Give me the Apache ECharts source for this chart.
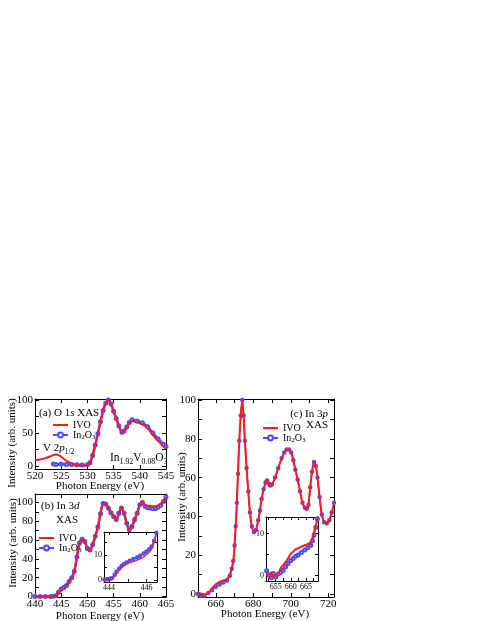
<!DOCTYPE html>
<html>
<head>
<meta charset="utf-8">
<script src="https://cdn.jsdelivr.net/npm/echarts@6/dist/echarts.min.js"></script>
<style>
  html, body { margin: 0; padding: 0; background: #fff; }
  #chart { width: 480px; height: 621px; }
</style>
</head>
<body>
<div id="chart"></div>
<script>
// (a) O 1s XAS
const oEnergyIVO = [520, 521, 522, 523, 524, 524.5, 525, 526, 527, 528, 529, 530, 530.5, 531, 531.5, 532, 532.5, 533, 533.5, 534, 534.5, 535, 535.5, 536, 536.6, 537, 537.5, 538, 538.5, 539.5, 540.5, 541.5, 542.5, 543.5, 544.5, 545];
const oIVO = [9, 10, 12, 15, 17.5, 16.5, 14, 8, 3.7, 1.2, 0.3, 1.5, 5, 16, 32, 49, 67, 84, 95, 100, 94, 83, 72, 61, 51, 53, 58, 65, 68, 66, 63, 57, 47, 38, 30, 27];
const oEnergyIn2O3 = [523.5, 524, 525, 526, 527, 528, 529, 530, 530.5, 531, 531.5, 532, 532.5, 533, 533.5, 534, 534.5, 535, 535.5, 536, 536.6, 537, 537.5, 538, 538.5, 539.5, 540.5, 541.5, 542.5, 543.5, 544.5, 545];
const oIn2O3 = [3, 2.5, 3, 2.5, 2.5, 2, 1.5, 2, 5, 16, 32, 49, 67, 84, 95, 100, 94, 83, 72, 61, 51, 53, 59, 66, 70, 68, 65.5, 59.5, 50, 41, 33, 29.5];

// (b) In 3d XAS
const dEnergy = [440, 441, 442, 443, 443.5, 444, 444.5, 445, 445.5, 446, 446.5, 447, 447.5, 448, 448.5, 449, 449.5, 450, 450.5, 451, 451.5, 452, 452.5, 453, 453.5, 454, 454.5, 455, 455.5, 456, 456.5, 457, 457.5, 458, 458.5, 459, 459.5, 460, 460.5, 461, 461.5, 462, 462.5, 463, 463.5, 464, 464.5, 465];
const dIVO = [0, 0, 0, 0, 0.2, 0.5, 3.5, 7, 8.5, 10.5, 15, 19, 26, 42, 57, 61, 58.5, 51, 49.5, 55, 64, 74, 88, 99, 98.5, 94, 89, 85, 82, 88.5, 94, 88.5, 78, 71, 74.5, 81.5, 88.5, 97.5, 101, 97.5, 96.5, 96.5, 96, 96, 97, 99, 102, 105.5];
const dIn2O3 = [0, 0, 0, 0, 0.3, 0.8, 4.5, 8, 9.5, 11.8, 16, 20, 27, 42, 57, 61, 58.5, 51, 49.5, 55, 64, 74, 88, 99, 98.5, 94, 89, 85, 82, 88.5, 94, 88.5, 78, 71, 74.5, 81.5, 88.5, 97.5, 100, 96, 94.5, 94, 93.5, 93.5, 95, 97, 101, 106];
const dInsetEnergy = [443.75, 443.9, 444.05, 444.15, 444.3, 444.4, 444.55, 444.67, 444.8, 444.94, 445.1, 445.3, 445.5, 445.65, 445.85, 446, 446.15, 446.27, 446.4, 446.53];
const dInsetIVO = [0, 0, 0.2, 0.4, 1.5, 2.7, 4, 5, 5.8, 6.4, 6.9, 7.3, 7.9, 8.4, 9.2, 10, 11, 12.3, 14.8, 18.7];
const dInsetIn2O3 = [0.3, 0.4, 0.6, 0.8, 2.2, 3.3, 4.6, 5.6, 6.4, 7, 7.7, 8.4, 9, 9.6, 10.5, 11.3, 12.2, 13.3, 15.5, 18.7];

// (c) In 3p XAS
const pEnergy = [650.5, 652, 654, 656, 658, 660, 662, 664, 666, 667.5, 668.5, 669.3, 670, 670.6, 671.2, 671.8, 672.5, 673.3, 674.1, 674.8, 675.5, 676.4, 677.3, 678.2, 679.2, 680.3, 681.4, 682.6, 683.5, 684.4, 685.5, 686.5, 687.3, 688.2, 689, 690, 691.6, 693.3, 695.1, 696.5, 697.8, 699, 700.2, 701.3, 702.4, 703.6, 704.9, 706.2, 707.5, 708.5, 709.4, 710.3, 711.3, 712.4, 713.3, 714.2, 715.3, 716.5, 717.8, 719.2, 720.5, 721.8, 723];
const pIVO = [0.5, 0.3, -0.2, 0.7, 3, 5, 6.3, 7, 7.8, 10, 13.5, 17, 25, 35, 47, 62, 79, 92, 100, 92, 79, 65, 53, 42, 35, 32, 33, 38, 43, 49, 54, 57.5, 58.5, 57, 56, 56.5, 60, 65, 70, 73, 74.5, 74.5, 73, 69, 64, 59, 53, 47, 44.5, 44, 46, 55, 63, 68, 66, 60, 50, 41, 37, 36.5, 38, 42, 46.5];
const pIn2O3 = [0, -1, -0.8, 0.5, 2, 3.8, 5, 6, 7, 9.5, 13, 17, 25, 35, 47, 62, 79, 92, 100, 92, 79, 65, 53, 42, 35, 32, 33, 38, 43, 49, 54, 57.5, 58.5, 57, 56, 56.5, 60, 65, 70, 73, 74.5, 74.5, 73, 69, 64, 59, 53, 47, 44.5, 44, 46, 55, 63, 68, 66, 60, 50, 41, 37, 36.5, 38, 42, 47];
const pInsetEnergy = [652, 652.8, 653.5, 654.2, 655, 655.9, 656.7, 657.5, 658.3, 659.1, 660, 660.8, 661.6, 662.4, 663.5, 664.6, 665.6, 666.6, 667.2, 667.7, 668.3, 668.8];
const pInsetIVO = [0.5, -0.3, 0.8, -0.2, 0.3, 0.6, 1.8, 2.5, 3.3, 4.1, 5.2, 5.7, 6.2, 6.5, 6.9, 7.2, 7.5, 8, 9, 10.4, 12, 13.7];
const pInsetIn2O3 = [1.2, 0.2, -0.5, 0.5, -0.3, 0.4, 0.8, 1.3, 2.1, 2.9, 3.6, 4.1, 4.6, 4.9, 5.5, 6.1, 6.6, 7.2, 8.3, 9.6, 11.5, 13.5];

// tick values and tick labels
const aXLabels = [520, 525, 530, 535, 540, 545];
const aYTicks = [0, 25, 50, 75, 100];
const aYLabels = [0, 50, 100];
const bXLabels = [440, 445, 450, 455, 460, 465];
const bYTicks = [0, 10, 20, 30, 40, 50, 60, 70, 80, 90, 100];
const bYLabels = [0, 20, 40, 60, 80, 100];
const bInsetXTicks = [444, 445, 446];
const bInsetXLabels = [444, 446];
const bInsetYTicks = [0, 5, 10, 15];
const bInsetYLabels = [0, 10];
const cXTicks = [660, 670, 680, 690, 700, 710, 720];
const cXLabels = [660, 680, 700, 720];
const cYTicks = [0, 10, 20, 30, 40, 50, 60, 70, 80, 90, 100];
const cYLabels = [0, 20, 40, 60, 80, 100];
const cInsetXTicks = [652.5, 655, 657.5, 660, 662.5, 665, 667.5];
const cInsetXLabels = [655, 660, 665];
const cInsetYTicks = [0, 5, 10];
const cInsetYLabels = [0, 10];

const RED = '#ff1a1a';
const BLUE = '#4a4aff';
const FONT = 'Liberation Serif';

const chart = echarts.init(document.getElementById('chart'));

const pairs = (xs, ys) => xs.map((x, i) => [x, ys[i]]);

function axis(isX, gridIndex, min, max, ticks, labels, size, tickLen, main) {
  return {
    type: 'value', gridIndex, min, max,
    position: isX ? (main ? 'bottom' : 'top') : (main ? 'left' : 'right'),
    axisLine: { show: true, onZero: false, lineStyle: { color: '#000', width: 1 } },
    axisTick: { show: true, inside: true, length: tickLen, customValues: ticks, lineStyle: { color: '#000', width: 1 } },
    axisLabel: main
      ? { show: true, customValues: labels, margin: 2, color: '#000', fontFamily: FONT, fontSize: size }
      : { show: false },
    splitLine: { show: false }
  };
}

// grids: a, b, c, inset b, inset c
const grids = [
  { left: 35, top: 399, width: 131, height: 70 },
  { left: 35, top: 494, width: 131, height: 103 },
  { left: 198, top: 399, width: 136, height: 198 },
  { left: 104, top: 532, width: 53, height: 50, show: true, backgroundColor: '#fff', borderWidth: 0 },
  { left: 266, top: 517, width: 52, height: 64, show: true, backgroundColor: '#fff', borderWidth: 0 }
].map(g => Object.assign({ outerBoundsMode: 'none', containLabel: false }, g));

const xSpecs = [
  [520, 545, aXLabels, aXLabels, 11, 4],
  [440, 465, bXLabels, bXLabels, 11, 4],
  [650.5, 723, cXTicks, cXLabels, 11, 4],
  [443.73, 446.56, bInsetXTicks, bInsetXLabels, 8, 3],
  [651.8, 669, cInsetXTicks, cInsetXLabels, 8, 3]
];
const ySpecs = [
  [-4.5, 101.5, aYTicks, aYLabels, 11, 4],
  [-0.5, 109, bYTicks, bYLabels, 11, 4],
  [-1.5, 100.5, cYTicks, cYLabels, 11, 4],
  [-0.7, 19, bInsetYTicks, bInsetYLabels, 8, 3],
  [-1.25, 13.9, cInsetYTicks, cInsetYLabels, 8, 3]
];

const xAxes = [], yAxes = [];
xSpecs.forEach((s, g) => {
  xAxes.push(axis(true, g, s[0], s[1], s[2], s[3], s[4], s[5], true));
  xAxes.push(axis(true, g, s[0], s[1], s[2], s[3], s[4], s[5], false));
});
ySpecs.forEach((s, g) => {
  yAxes.push(axis(false, g, s[0], s[1], s[2], s[3], s[4], s[5], true));
  yAxes.push(axis(false, g, s[0], s[1], s[2], s[3], s[4], s[5], false));
});

function blueLine(g, data, symSize, width) {
  return {
    name: 'In2O3', type: 'line', xAxisIndex: 2 * g, yAxisIndex: 2 * g,
    data, smooth: 0.3, symbol: 'emptyCircle', symbolSize: symSize, showAllSymbol: true,
    itemStyle: { color: BLUE, borderColor: BLUE, borderWidth: 0.8 },
    lineStyle: { color: BLUE, width }, z: 2
  };
}
function redLine(g, data, width) {
  return {
    name: 'IVO', type: 'line', xAxisIndex: 2 * g, yAxisIndex: 2 * g,
    data, smooth: 0.3, symbol: 'none',
    itemStyle: { color: RED }, lineStyle: { color: RED, width }, z: 3
  };
}

const series = [
  blueLine(0, pairs(oEnergyIn2O3, oIn2O3), 3, 2.5),
  redLine(0, pairs(oEnergyIVO, oIVO), 2),
  blueLine(1, pairs(dEnergy, dIn2O3), 3, 2.5),
  redLine(1, pairs(dEnergy, dIVO), 2),
  blueLine(2, pairs(pEnergy, pIn2O3), 2.5, 1.5),
  redLine(2, pairs(pEnergy, pIVO), 2),
  blueLine(3, pairs(dInsetEnergy, dInsetIn2O3), 2.5, 1.5),
  redLine(3, pairs(dInsetEnergy, dInsetIVO), 1.2),
  blueLine(4, pairs(pInsetEnergy, pInsetIn2O3), 3, 1.2),
  redLine(4, pairs(pInsetEnergy, pInsetIVO), 2)
];

const legendRich = {
  n: { fontFamily: FONT, fontSize: 10, color: '#000', lineHeight: 11 },
  s: { fontFamily: FONT, fontSize: 7, color: '#000', lineHeight: 7, verticalAlign: 'bottom' }
};
function legendAt(left, top) {
  return {
    left, top, orient: 'vertical', padding: 0, itemGap: 0, itemWidth: 15, itemHeight: 6, itemTextGap: 3,
    symbolKeepAspect: true,
    data: [
      { name: 'IVO', icon: 'path://M0,0H30V4H0Z' },
      { name: 'In2O3' }
    ],
    formatter: name => name === 'In2O3' ? '{n|In}{s|2}{n|O}{s|3}' : '{n|IVO}',
    textStyle: { fontFamily: FONT, fontSize: 10, color: '#000', rich: legendRich },
    selectedMode: false
  };
}

function richFor(size) {
  return {
    i: { fontFamily: FONT, fontSize: size, fontStyle: 'italic', fill: '#000', lineHeight: size * 1.3 },
    s: { fontFamily: FONT, fontSize: size * 0.68, fill: '#000', lineHeight: size * 0.68, verticalAlign: 'bottom' },
    n: { fontFamily: FONT, fontSize: size, fill: '#000', lineHeight: size * 1.3 }
  };
}
function txt(text, x, y, size, align, rotate) {
  return {
    type: 'text', x, y, rotation: rotate ? Math.PI / 2 : 0, z: 10,
    style: {
      text, fontFamily: FONT, fontSize: size, fill: '#000',
      align: align || 'left', verticalAlign: 'middle', rich: richFor(size)
    }
  };
}

const graphics = [
  txt('{n|(a) O 1}{i|s}{n| XAS}', 39, 413, 11),
  txt('{n|V 2}{i|p}{s|1/2}', 43, 448, 11),
  txt('{n|In}{s|1.92}{n|V}{s|0.08}{n|O}{s|3}', 110, 458, 11.5),
  txt('{n|(b) In 3}{i|d}', 41, 506, 11),
  txt('XAS', 56, 520, 11),
  txt('{n|(c) In 3}{i|p}', 328, 414, 11, 'right'),
  txt('XAS', 328, 425, 11, 'right'),
  txt('Intensity (arb. units)', 12, 443, 11, 'center', true),
  txt('Intensity (arb. units)', 13, 543, 11, 'center', true),
  txt('Intensity (arb. units)', 182, 497, 11, 'center', true),
  txt('Photon Energy (eV)', 100, 486, 11, 'center'),
  txt('Photon Energy (eV)', 100, 616, 11, 'center'),
  txt('Photon Energy (eV)', 265, 614, 11, 'center')
];

chart.setOption({
  animation: false,
  backgroundColor: '#fff',
  grid: grids,
  xAxis: xAxes,
  yAxis: yAxes,
  legend: [legendAt(52, 420), legendAt(38, 533), legendAt(262, 423)],
  series,
  graphic: graphics
});
</script>
</body>
</html>
